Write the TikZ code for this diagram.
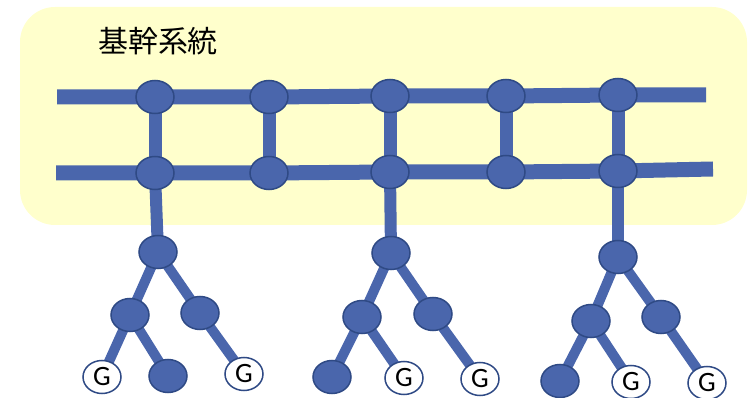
\documentclass[tikz,border=0pt]{standalone}
\usepackage{fontspec}
\setsansfont{Carlito}
\newfontfamily\jpfont{Noto Sans CJK JP}
\usetikzlibrary{shapes.geometric, backgrounds}

\definecolor{hubblue}{HTML}{4A66AC}
\definecolor{hubedge}{HTML}{2F4A85}
\definecolor{corepale}{HTML}{FFFFCC}

\tikzset{
  hub/.style = {
    ellipse, fill = hubblue, draw = hubedge, line width = 1.5pt,
    minimum width = 38pt, minimum height = 33pt, inner sep = 0pt
  },
  gen/.style = {hub, fill = white, font = \sffamily\fontsize{28}{28}\selectfont},
  bus/.style = {draw = hubblue, line width = 15pt},
  rung/.style = {draw = hubblue, line width = 13pt},
  drop/.style = {draw = hubblue, line width = 12pt},
  branch/.style = {draw = hubblue, line width = 10pt}
}

\begin{document}
\begin{tikzpicture}[x = 1pt, y = -1pt]
  \useasboundingbox (0,0) rectangle (748,398);

  % backbone: two rows of hubs
  \foreach \name/\x/\y in {t1/155/97, t2/269/97, t3/390/96, t4/506/96, t5/618/95,
                           b1/155/173, b2/269/173, b3/390/172, b4/506/172, b5/618/171}
    \node [hub] (\name) at (\x,\y) {};
  \coordinate (tw) at (57,97);
  \coordinate (te) at (706,95);
  \coordinate (bw) at (56,173);
  \coordinate (be) at (713,169);
  \node [font = \jpfont\fontsize{30}{30}\selectfont] (title) at (158,41) {基幹系統};

  % tree roots and inner hubs
  \foreach \name/\x/\y in {r1/158/252, a1/130/315, c1/200/313,
                           r2/391/253, a2/362/317, c2/433/314,
                           r3/618/257, a3/591/321, c3/661/317}
    \node [hub] (\name) at (\x,\y) {};

  % leaves
  \node [gen] (l11) at (102,377) {G};
  \node [hub] (l12) at (168,376) {};
  \node [gen] (l13) at (244,374) {G};
  \node [hub] (l21) at (332,377) {};
  \node [gen] (l22) at (404,378) {G};
  \node [gen] (l23) at (480,379) {G};
  \node [hub] (l31) at (560,381) {};
  \node [gen] (l32) at (631,382) {G};
  \node [gen] (l33) at (707,383) {G};

  \begin{scope}[on background layer]
    \fill [corepale, rounded corners = 35pt] (20,7) rectangle (747,225);

    \draw [bus] (tw) -- (t1.center) -- (t2.center) -- (t3.center)
      -- (t4.center) -- (t5.center) -- (te);
    \draw [bus] (bw) -- (b1.center) -- (b2.center) -- (b3.center)
      -- (b4.center) -- (b5.center) -- (be);
    \foreach \i in {1,...,5}
      \draw [rung] (t\i.center) -- (b\i.center);

    \draw [drop] (b1.center) -- (r1.center);
    \draw [drop] (b3.center) -- (r2.center);
    \draw [drop] (b5.center) -- (r3.center);

    \foreach \t in {1,2,3} {
      \draw [branch] (r\t.center) -- (a\t.center);
      \draw [branch] (r\t.center) -- (c\t.center);
      \draw [branch] (a\t.center) -- (l\t1.center);
      \draw [branch] (a\t.center) -- (l\t2.center);
      \draw [branch] (c\t.center) -- (l\t3.center);
    }
  \end{scope}
\end{tikzpicture}
\end{document}
